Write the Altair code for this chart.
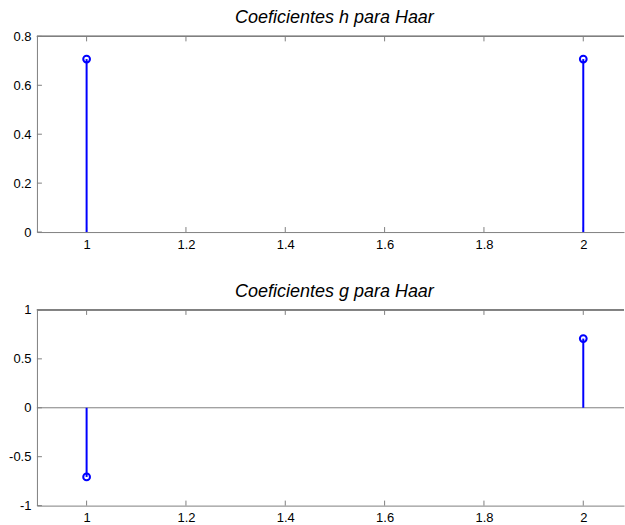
import altair as alt
import pandas as pd

# Haar filter coefficients (stem plots)
n = [1, 2]
h_coef = [0.7071, 0.7071]
g_coef = [-0.7071, 0.7071]

x_ticks = [1, 1.2, 1.4, 1.6, 1.8, 2]
h_yticks = [0, 0.2, 0.4, 0.6, 0.8]
g_yticks = [-1, -0.5, 0, 0.5, 1]

W, H = 588, 196
BLUE = "#0000ff"
AXIS = "#7f7f7f"
FONT = "Liberation Sans"
X_DOMAIN = [0.9, 2.082]


def stem_panel(values, yticks, y_domain, title, baseline):
    df = pd.DataFrame({"n": n, "v": values})
    xt = pd.DataFrame({"t": x_ticks})
    yt = pd.DataFrame({"t": yticks})

    label_style = dict(labelFont=FONT, labelFontSize=13, labelColor="#000000")
    x_axis = alt.Axis(values=x_ticks, labelExpr="toString(datum.value)", ticks=False,
                      grid=False, domainColor=AXIS, labelPadding=6, title=None,
                      **label_style)
    y_axis = alt.Axis(values=yticks, labelExpr="toString(datum.value)", ticks=False,
                      grid=False, domainColor=AXIS, labelPadding=6, title=None,
                      minExtent=31, maxExtent=31, **label_style)
    xs = alt.Scale(domain=X_DOMAIN, nice=False, zero=False)
    ys = alt.Scale(domain=y_domain, nice=False, zero=False)

    base = alt.Chart(df)
    stems = base.mark_rule(color=BLUE, strokeWidth=2).encode(
        x=alt.X("n:Q", scale=xs, axis=x_axis),
        y=alt.Y("v:Q", scale=ys, axis=y_axis),
        y2=alt.datum(0),
    )
    heads = base.mark_point(shape="circle", filled=False, color=BLUE,
                            size=46, strokeWidth=2, opacity=1).encode(
        x=alt.X("n:Q", scale=xs), y=alt.Y("v:Q", scale=ys)
    )
    # inward tick marks on bottom, top and left edges
    xt_bottom = alt.Chart(xt).mark_rule(color=AXIS).encode(
        x=alt.X("t:Q", scale=xs), y=alt.value(H), y2=alt.value(H - 5))
    xt_top = alt.Chart(xt).mark_rule(color=AXIS).encode(
        x=alt.X("t:Q", scale=xs), y=alt.value(0), y2=alt.value(5))
    yt_left = alt.Chart(yt).mark_rule(color=AXIS).encode(
        y=alt.Y("t:Q", scale=ys), x=alt.value(0), x2=alt.value(5))
    top_line = alt.Chart(xt).mark_rule(color=AXIS).encode(
        x=alt.value(0), x2=alt.value(W), y=alt.value(0))

    layers = [xt_bottom, xt_top, yt_left, top_line]
    if baseline:
        zero = alt.Chart(pd.DataFrame({"z": [0]})).mark_rule(color=AXIS).encode(
            y=alt.Y("z:Q", scale=ys))
        layers.append(zero)
    layers += [stems, heads]

    return alt.layer(*layers).properties(
        width=W, height=H,
        title=alt.TitleParams(title, fontStyle="italic", fontSize=18, font=FONT,
                              fontWeight="normal", color="#000000", offset=3, dx=4),
    )


top = stem_panel(h_coef, h_yticks, [0, 0.8], "Coeficientes h para Haar", False)
bottom = stem_panel(g_coef, g_yticks, [-1, 1], "Coeficientes g para Haar", True)

chart = alt.vconcat(top, bottom, spacing=32).properties(
    padding={"left": 6, "top": 9, "right": 0, "bottom": 0},
    background="white",
).configure_view(stroke=None)

chart.save("out.html", embed_options={"renderer": "svg", "actions": False})
